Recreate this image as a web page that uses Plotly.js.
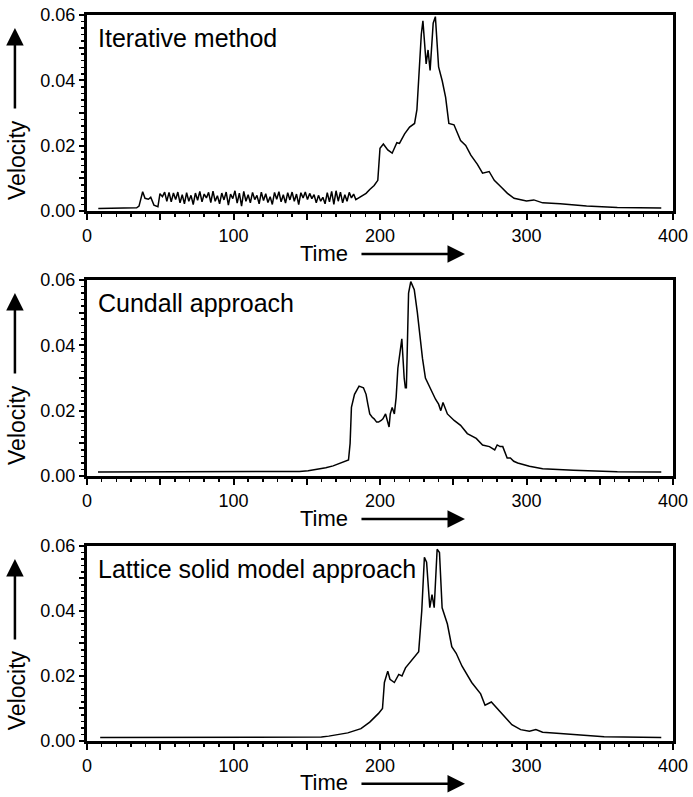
<!DOCTYPE html>
<html><head><meta charset="utf-8">
<script src="https://cdn.plot.ly/plotly-3.0.1.min.js"></script>
<style>html,body{margin:0;padding:0;background:#fff}</style>
</head><body>
<div id="chart" style="width:693px;height:797px"></div>
<script>
// ---- data ----
var panelTitles = ["Iterative method", "Cundall approach", "Lattice solid model approach"];
var xTickVals = [0, 50, 100, 150, 200, 250, 300, 350, 400];
var xTickText = ["0", "", "100", "", "200", "", "300", "", "400"];
var yTickVals = [0, 0.01, 0.02, 0.03, 0.04, 0.05, 0.06];
var yTickText = ["0.00", "", "0.02", "", "0.04", "", "0.06"];

var timeIter = [7.7,31.6,33.9,35.5,36.5,38,39.6,41.9,43.5,45.7,48.4,49.8,
 51.5,53,54.5,56,57.5,59,60.5,62,63.5,65,66.5,68,69.5,71,72.5,74,75.5,77,78.5,80,81.5,83,84.5,86,87.5,89,90.5,92,93.5,95,96.5,98,99.5,
 101,102.5,104,105.5,107,108.5,110,111.5,113,114.5,116,117.5,119,120.5,122,123.5,125,126.5,128,129.5,131,132.5,134,135.5,137,138.5,140,141.5,143,144.5,146,147.5,149,150.5,
 152,153.5,155,156.5,158,159.5,161,162.5,164,165.5,167,168.5,170,171.5,173,174.5,176,177.5,179,180.5,182,
 183.5,186,190.5,193,196,198.5,200,202.3,205.3,208.3,211.5,213.3,216.8,220.2,223.6,225.2,227,228.2,229.3,230.5,231.5,232.8,234.2,236.3,237.8,
 240,242.5,244.8,247,250.5,255,258.5,262,266.5,270,274.5,278,282.5,287,291.5,296,300,305,311,323,341,362,392];
var velIter = [0.0008,0.0008,0.0010,0.0015,0.0030,0.0059,0.0039,0.0036,0.0042,0.0018,0.0013,0.0053,
 0.0044,0.0058,0.0030,0.0057,0.0028,0.0055,0.0035,0.0058,0.0025,0.0050,0.0022,0.0056,0.0030,0.0048,0.0020,0.0055,0.0033,0.0060,0.0028,0.0052,0.0040,0.0057,0.0026,0.0061,0.0030,0.0047,0.0022,0.0055,0.0034,0.0058,0.0018,0.0052,0.0038,
 0.0062,0.0024,0.0055,0.0015,0.0060,0.0030,0.0050,0.0025,0.0057,0.0035,0.0048,0.0022,0.0058,0.0032,0.0053,0.0026,0.0044,0.0020,0.0057,0.0036,0.0059,0.0028,0.0050,0.0024,0.0056,0.0034,0.0058,0.0030,0.0052,0.0020,0.0056,0.0040,0.0058,0.0035,
 0.0054,0.0038,0.0050,0.0025,0.0048,0.0030,0.0042,0.0022,0.0056,0.0028,0.0060,0.0020,0.0062,0.0030,0.0058,0.0025,0.0050,0.0030,0.0057,0.0040,0.0052,
 0.0035,0.0042,0.0054,0.0066,0.0078,0.0094,0.0192,0.0205,0.0187,0.0177,0.0209,0.0207,0.0236,0.0257,0.0268,0.0310,0.0441,0.0541,0.0582,0.0500,0.0450,0.0493,0.0430,0.0575,0.0595,
 0.0441,0.0398,0.0348,0.0268,0.0264,0.0216,0.0201,0.0171,0.0143,0.0116,0.0121,0.0094,0.0074,0.0054,0.0039,0.0034,0.0031,0.0034,0.0025,0.0022,0.0015,0.0011,0.0009];

var timeCundall = [7.5,60,135,145,151,157,163,168,172,176,178.5,179.6,180.5,182.6,185.7,188.7,190.5,191.7,193,194.7,196,197.7,199,200.8,202,203.8,205,206.2,207,208.3,209.8,211,212.2,214,214.9,216.5,217.3,218,219.5,221,223.4,225.5,227.3,229,231,234,236,237.9,240,241.5,243,244.5,246,250.6,255,259.6,265.7,270,274.7,278.3,280,282,283.8,286.8,289,291.3,294,302,311,332,347,362,392];
var velCundall = [0.0012,0.0012,0.0012,0.0014,0.0016,0.0020,0.0025,0.0031,0.0037,0.0044,0.0049,0.0100,0.0210,0.0250,0.0275,0.0270,0.0250,0.0220,0.0190,0.0180,0.0175,0.0165,0.0165,0.0170,0.0175,0.0190,0.0170,0.0150,0.0190,0.0210,0.0190,0.0240,0.0330,0.0400,0.0420,0.0300,0.0270,0.0270,0.0560,0.0595,0.0570,0.0500,0.0420,0.0360,0.0300,0.0270,0.0250,0.0235,0.0220,0.0200,0.0225,0.0210,0.0190,0.0170,0.0155,0.0130,0.0115,0.0095,0.0090,0.0080,0.0095,0.0090,0.0090,0.0055,0.0055,0.0045,0.0040,0.0030,0.0022,0.0018,0.0016,0.0013,0.0012];

var timeLattice = [9,80,160,165,169,178,187,193,199,201.7,203,205.3,206.8,209.8,212.8,215,217.4,221.9,225,226.4,228.5,230.3,231.8,234,235.5,237,239,240.6,242.4,246,249,252,256,258,262.6,268.7,271.7,276,281,285,290,296,302,306.4,311,323,338,353,392];
var velLattice = [0.0011,0.0011,0.0012,0.0015,0.0018,0.0025,0.0038,0.0058,0.0085,0.0100,0.0180,0.0215,0.0190,0.0180,0.0205,0.0200,0.0225,0.0250,0.0270,0.0275,0.0400,0.0565,0.0550,0.0410,0.0450,0.0410,0.0590,0.0580,0.0410,0.0360,0.0290,0.0270,0.0230,0.0215,0.0180,0.0145,0.0110,0.0120,0.0095,0.0075,0.0050,0.0035,0.0030,0.0035,0.0027,0.0023,0.0017,0.0013,0.0011];

var xRange = [0, 400];
var yRange = [0, 0.06];

// ---- styling / layout ----
var FONT = "Liberation Sans, Arial, Helvetica, sans-serif";
var domains = [[0.7300, 1.0], [0.3650, 0.6350], [0.0, 0.2686]];
var panelPx = 196;

var xMinor = [], yMinor = [];
for (var i = 0; i <= 400; i += 10) if (i % 50 !== 0) xMinor.push(i);
for (var j = 0; j <= 30; j++) if (j % 5 !== 0) yMinor.push(j * 0.002);

function xAxis(idx) {
  return {
    range: xRange, domain: [0, 1], anchor: "y" + (idx === 1 ? "" : idx),
    showline: true, mirror: true, linewidth: 3, linecolor: "#000",
    ticks: "outside", tickmode: "array", tickvals: xTickVals, ticktext: xTickText,
    ticklen: 6, tickwidth: 2, tickcolor: "#000",
    minor: {tickmode: "array", tickvals: xMinor, ticks: "outside", ticklen: 3, tickwidth: 1.5, tickcolor: "#000", showgrid: false},
    showgrid: false, zeroline: false, fixedrange: true,
    tickfont: {family: FONT, size: 18, color: "#000"}
  };
}
function yAxis(idx) {
  return {
    range: yRange, domain: domains[idx - 1], anchor: "x" + (idx === 1 ? "" : idx),
    showline: true, mirror: true, linewidth: 3, linecolor: "#000",
    ticks: "outside", tickmode: "array", tickvals: yTickVals, ticktext: yTickText,
    ticklen: 5, tickwidth: 2, tickcolor: "#000",
    minor: {tickmode: "array", tickvals: yMinor, ticks: "outside", ticklen: 3, tickwidth: 1.5, tickcolor: "#000", showgrid: false},
    showgrid: false, zeroline: false, fixedrange: true,
    tickfont: {family: FONT, size: 18, color: "#000"}
  };
}

var series = [[timeIter, velIter], [timeCundall, velCundall], [timeLattice, velLattice]];
var traces = series.map(function (s, k) {
  var suf = k === 0 ? "" : String(k + 1);
  return {x: s[0], y: s[1], xaxis: "x" + suf, yaxis: "y" + suf, type: "scatter", mode: "lines",
          line: {color: "#000", width: 1.5}, showlegend: false, hoverinfo: "skip"};
});

var annotations = [];
for (var k = 0; k < 3; k++) {
  var suf = k === 0 ? "" : String(k + 1);
  var xr = "x" + suf, yr = "y" + suf + " domain";
  annotations.push({text: panelTitles[k], xref: xr, yref: yr, x: 6, y: 1 - 23 / panelPx,
    xanchor: "left", yanchor: "middle", showarrow: false, font: {family: FONT, size: 25, color: "#000"}});
  annotations.push({text: "Time", xref: xr, yref: yr, x: 162, y: -42 / panelPx,
    xanchor: "center", yanchor: "middle", showarrow: false, font: {family: FONT, size: 22, color: "#000"}});
  annotations.push({text: "", xref: xr, yref: yr, x: 258, y: -43 / panelPx, showarrow: true,
    ax: -105, ay: 0, arrowhead: 2, arrowsize: 1.4, arrowwidth: 2.5, arrowcolor: "#000"});
  annotations.push({text: "Velocity", xref: "paper", yref: yr, x: -0.1195, y: 51 / panelPx,
    xanchor: "center", yanchor: "middle", textangle: -90, showarrow: false, font: {family: FONT, size: 23, color: "#000"}});
  annotations.push({text: "", xref: "paper", yref: yr, x: -0.123, y: 183 / panelPx, showarrow: true,
    ax: 0, ay: 82, arrowhead: 2, arrowsize: 1.4, arrowwidth: 2.5, arrowcolor: "#000"});
}

var layout = {
  width: 693, height: 797,
  margin: {l: 87, r: 20, t: 15, b: 56},
  paper_bgcolor: "#fff", plot_bgcolor: "#fff",
  showlegend: false,
  xaxis: xAxis(1), yaxis: yAxis(1),
  xaxis2: xAxis(2), yaxis2: yAxis(2),
  xaxis3: xAxis(3), yaxis3: yAxis(3),
  annotations: annotations
};

Plotly.newPlot("chart", traces, layout, {displayModeBar: false, staticPlot: true});
</script>
</body></html>
